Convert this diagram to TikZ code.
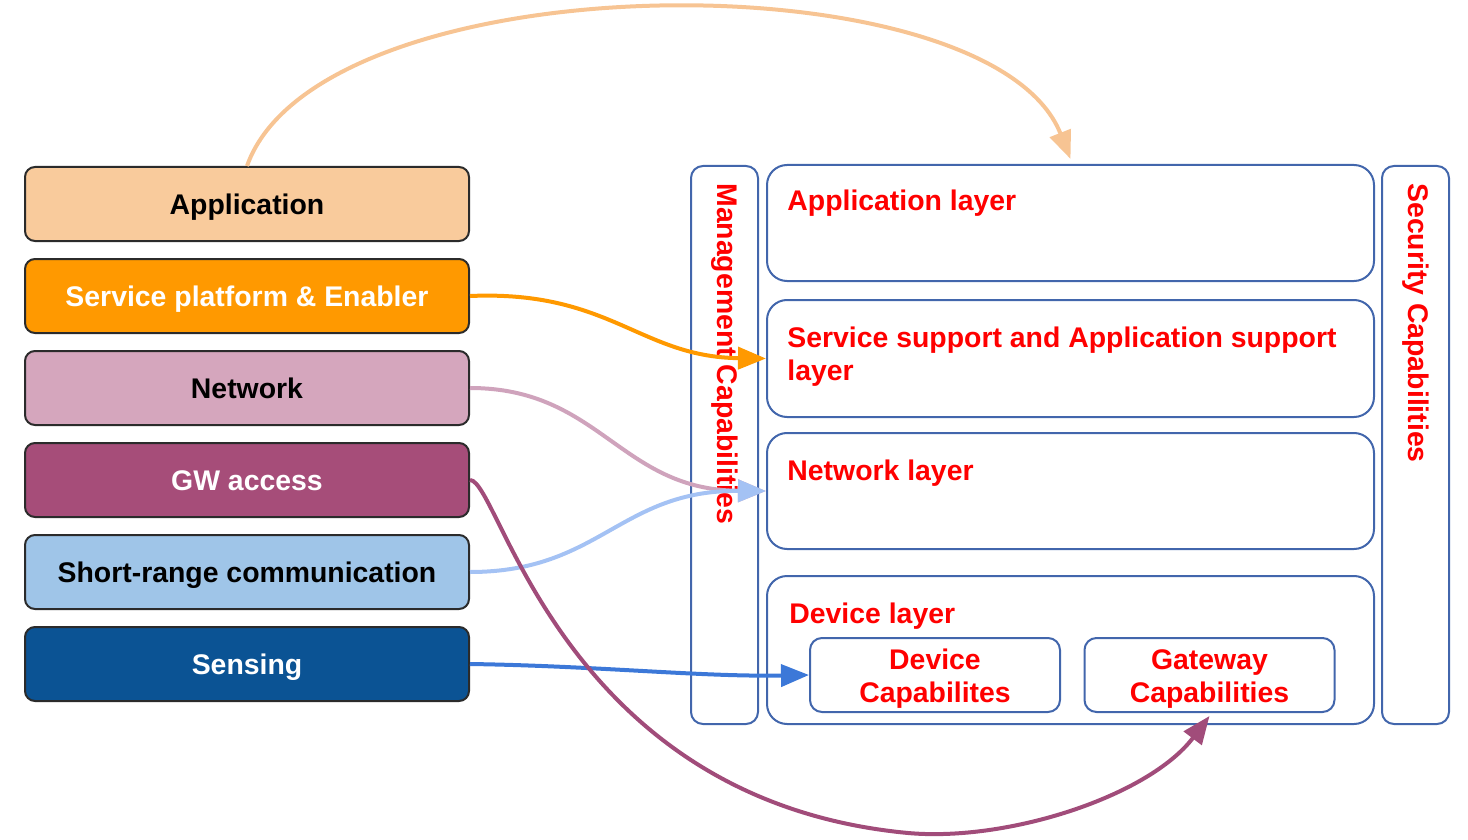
\documentclass[tikz,border=0pt]{standalone}
\usepackage{fontspec}
\setmainfont{Liberation Sans}
\usetikzlibrary{arrows.meta}
\definecolor{appc}{HTML}{F9CB9C}
\definecolor{svcc}{HTML}{FF9900}
\definecolor{netc}{HTML}{D5A6BD}
\definecolor{gwc}{HTML}{A64D79}
\definecolor{src}{HTML}{9FC5E8}
\definecolor{senc}{HTML}{0B5394}
\definecolor{boxline}{HTML}{2B2B2B}
\definecolor{layline}{HTML}{4266AC}
\definecolor{redt}{HTML}{FF0000}
\definecolor{arrapp}{HTML}{F7C493}
\definecolor{arrnet}{HTML}{CFA3BC}
\definecolor{arrsr}{HTML}{A4C2F4}
\definecolor{arrsen}{HTML}{3C78D8}
\definecolor{arrgw}{HTML}{A14C7A}
\begin{document}
\begin{tikzpicture}[x=0.5pt,y=-0.5pt,
  font=\bfseries\fontsize{14.2}{16.5}\selectfont,
  lbox/.style={draw=boxline, line width=1pt, rounded corners=5pt,
    minimum width=222pt, minimum height=37pt, inner sep=0pt,
    text height=10.2pt, text depth=0pt},
  layer/.style={draw=layline, line width=1pt, rounded corners=10pt,
    minimum width=303.5pt, inner sep=0pt},
  side/.style={draw=layline, line width=1pt, rounded corners=6pt,
    minimum width=33.5pt, minimum height=279pt, inner sep=0pt},
  sub/.style={draw=layline, line width=1pt, rounded corners=6pt,
    minimum width=125pt, minimum height=37pt, inner sep=0pt},
  redlbl/.style={text=redt, inner sep=0pt},
  conn/.style={line width=2pt, -{Triangle[length=14pt,width=11pt]}},
]
\useasboundingbox (0,0) rectangle (1468,840);

% left boxes
\node[lbox, fill=appc] (app) at (247,204) {Application};
\node[lbox, fill=svcc, text=white] (svc) at (247,296) {Service platform \& Enabler};
\node[lbox, fill=netc] (net) at (247,388) {Network};
\node[lbox, fill=gwc, text=white] (gw) at (247,480) {GW access};
\node[lbox, fill=src] (sr) at (247,572) {Short-range communication};
\node[lbox, fill=senc, text=white] (sen) at (247,664) {Sensing};

% right side
\node[side] (mgmt) at (724.5,445) {};
\node[side] (sec) at (1415.5,445) {};
\node[redlbl, rotate=-90, anchor=west] (mgmtt) at (725,183) {Management Capabilities};
\node[redlbl, rotate=-90, anchor=west] (sect) at (1416,183) {Security Capabilities};

\node[layer, minimum height=58pt] (appl) at (1070.5,223) {};
\node[layer, minimum height=58.5pt] (ssl) at (1070.5,358.5) {};
\node[layer, minimum height=58pt] (netl) at (1070.5,491) {};
\node[layer, minimum height=74pt] (devl) at (1070.5,650) {};
\node[sub] (devcap) at (935,675) {};
\node[sub] (gwcap) at (1209.5,675) {};

\node[redlbl, anchor=base west] (applt) at (787,211) {Application layer};
\node[redlbl, anchor=north west, align=left] (sslt) at (787,327) {Service support and Application support\\layer};
\node[redlbl, anchor=base west] (netlt) at (787,480) {Network layer};
\node[redlbl, anchor=base west] (devlt) at (789,623) {Device layer};
\node[redlbl, align=center] (devcapt) at (935,679) {Device\\Capabilites};
\node[redlbl, align=center] (gwcapt) at (1209.5,679) {Gateway\\Capabilities};

% connectors
\draw[conn, arrapp] (app.north) .. controls (320,-40) and (990,-45) .. ([yshift=2.5pt]appl.north);
\draw[conn, svcc] (svc.east) .. controls (610,290) and (640,357) .. (ssl.west);
\draw[conn, arrnet] (net.east) .. controls (600,388) and (620,490) .. (netl.west);
\draw[conn, arrsr] (sr.east) .. controls (600,572) and (620,490) .. (netl.west);
\draw[conn, arrsen] (sen.east) .. controls (600,666) and (700,677) .. (devcap.west);
\draw[conn, arrgw] (gw.east) .. controls (500,480) and (560,800) .. (908,833)
  .. controls (1008,842) and (1149,796) .. ([yshift=-1.5pt]gwcap.south);
\end{tikzpicture}
\end{document}
